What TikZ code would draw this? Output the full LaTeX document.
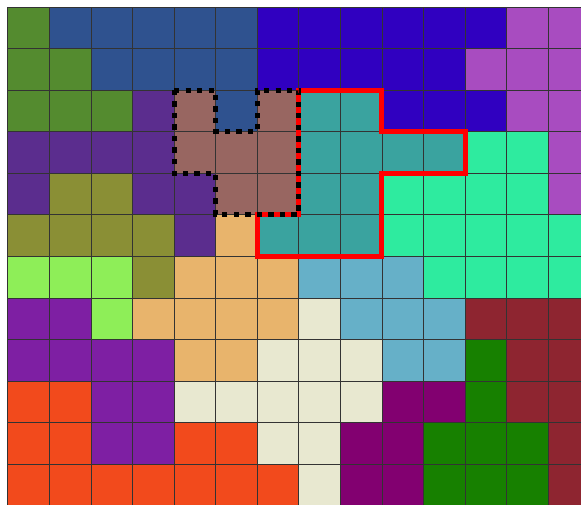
\documentclass[tikz,border=0pt]{standalone}
\usepackage{tikz}
\definecolor{grass}{RGB}{84,139,47}
\definecolor{steel}{RGB}{47,82,143}
\definecolor{indig}{RGB}{48,0,192}
\definecolor{lilac}{RGB}{168,76,192}
\definecolor{plum}{RGB}{91,45,142}
\definecolor{clay}{RGB}{152,102,97}
\definecolor{tealc}{RGB}{58,163,159}
\definecolor{mint}{RGB}{46,235,159}
\definecolor{olivec}{RGB}{138,143,53}
\definecolor{sand}{RGB}{232,180,108}
\definecolor{limec}{RGB}{142,238,88}
\definecolor{sky}{RGB}{102,176,200}
\definecolor{viol}{RGB}{126,31,163}
\definecolor{cream}{RGB}{232,232,208}
\definecolor{wine}{RGB}{142,37,48}
\definecolor{leaf}{RGB}{23,128,0}
\definecolor{flame}{RGB}{242,74,28}
\definecolor{berry}{RGB}{130,0,112}

\begin{document}
\begin{tikzpicture}[x=1cm,y=1cm,
  cell/.style={draw=black!80,line width=0.6pt},
  tealborder/.style={draw=red,line width=3.4pt,line join=miter},
  clayborder/.style={draw=black,line width=3.6pt,dash pattern=on 3.6pt off 4.3pt}]
\useasboundingbox (-0.19,0.17) rectangle (13.79,-11.96);
% ---- coloured cells, one list per row ----
\foreach \row [count=\r from 0] in {
  {grass,steel,steel,steel,steel,steel,indig,indig,indig,indig,indig,indig,lilac,lilac},
  {grass,grass,steel,steel,steel,steel,indig,indig,indig,indig,indig,lilac,lilac,lilac},
  {grass,grass,grass,plum,clay,steel,clay,tealc,tealc,indig,indig,indig,lilac,lilac},
  {plum,plum,plum,plum,clay,clay,clay,tealc,tealc,tealc,tealc,mint,mint,lilac},
  {plum,olivec,olivec,plum,plum,clay,clay,tealc,tealc,mint,mint,mint,mint,lilac},
  {olivec,olivec,olivec,olivec,plum,sand,tealc,tealc,tealc,mint,mint,mint,mint,mint},
  {limec,limec,limec,olivec,sand,sand,sand,sky,sky,sky,mint,mint,mint,mint},
  {viol,viol,limec,sand,sand,sand,sand,cream,sky,sky,sky,wine,wine,wine},
  {viol,viol,viol,viol,sand,sand,cream,cream,cream,sky,sky,leaf,wine,wine},
  {flame,flame,viol,viol,cream,cream,cream,cream,cream,berry,berry,leaf,wine,wine},
  {flame,flame,viol,viol,flame,flame,cream,cream,berry,berry,leaf,leaf,leaf,wine},
  {flame,flame,flame,flame,flame,flame,flame,cream,berry,berry,leaf,leaf,leaf,wine}}
{
  \foreach \c [count=\k from 0] in \row
    \filldraw[cell,fill=\c] (\k,-\r) rectangle ++(1,-1);
}
% ---- region outlines ----
\draw[tealborder] (7,-2) -- (9,-2) -- (9,-3) -- (11,-3) -- (11,-4) -- (9,-4)
  -- (9,-6) -- (6,-6) -- (6,-5) -- (7,-5) -- cycle;
\draw[clayborder] (4,-2) -- (5,-2) -- (5,-3) -- (6,-3) -- (6,-2) -- (7,-2)
  -- (7,-5) -- (5,-5) -- (5,-4) -- (4,-4) -- cycle;
\end{tikzpicture}
\end{document}
